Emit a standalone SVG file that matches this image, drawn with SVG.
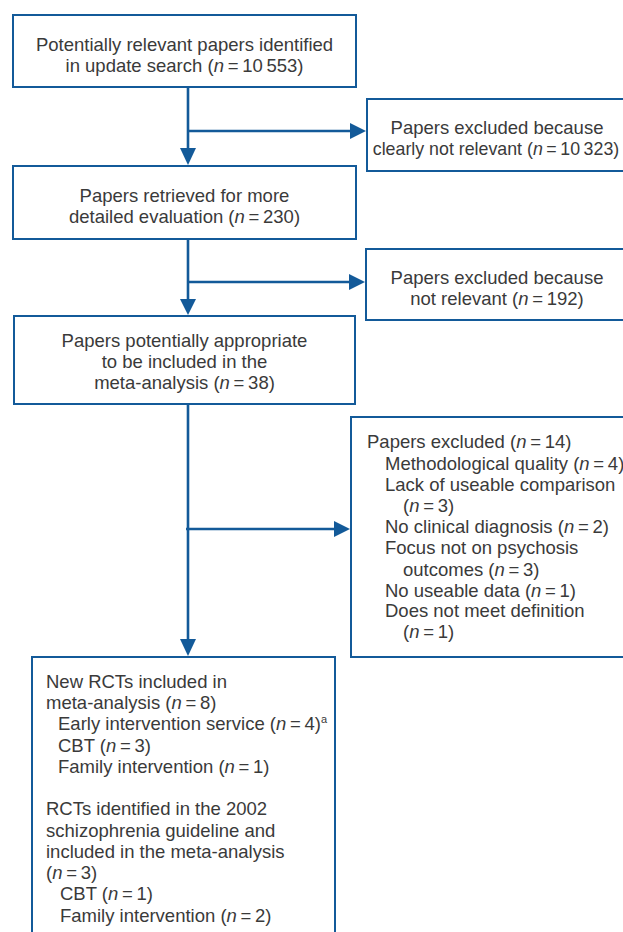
<svg xmlns="http://www.w3.org/2000/svg" width="623" height="932" viewBox="0 0 623 932">
<style>
.box{fill:#fff;stroke:#135a99;stroke-width:2}
.ln{fill:none;stroke:#135a99;stroke-width:2.6}
.hd{fill:#135a99}
text{font-family:"Liberation Sans",Arial,sans-serif;font-size:18.5px;fill:#3a3a3a}
.c{text-anchor:middle}
.i{font-style:italic}
.sup{font-size:11px}
.s{font-size:17.8px}
</style>
<rect width="623" height="932" fill="#fff"/>
<g id="connectors">
<path class="ln" d="M188 87V150M188 131H351"/>
<polygon class="hd" points="350,123 366,131 350,139"/>
<polygon class="hd" points="180,148 196,148 188,165"/>
<path class="ln" d="M188 239V300M188 282H350"/>
<polygon class="hd" points="349,274 365,282 349,290"/>
<polygon class="hd" points="180,299 196,299 188,315"/>
<path class="ln" d="M188 404V640M186 529H336"/>
<polygon class="hd" points="334,521 350,529 334,537"/>
<polygon class="hd" points="180,639 196,639 188,656"/>
</g>
<g id="n1">
<rect class="box" x="13" y="15" width="343" height="72"/>
<text class="c" x="184.5" y="51">Potentially relevant papers identified</text>
<text class="c" x="184.5" y="72">in update search (<tspan class="i">n</tspan>&#8201;=&#8201;10&#8201;553)</text>
</g>
<g id="n2">
<rect class="box" x="367" y="99" width="262" height="72"/>
<text class="c" x="497" y="134">Papers excluded because</text>
<text class="c s" x="496" y="155">clearly not relevant (<tspan class="i">n</tspan>&#8201;=&#8201;10&#8201;323)</text>
</g>
<g id="n3">
<rect class="box" x="13" y="166" width="343" height="73"/>
<text class="c" x="184.5" y="202">Papers retrieved for more</text>
<text class="c" x="184.5" y="223">detailed evaluation (<tspan class="i">n</tspan>&#8201;=&#8201;230)</text>
</g>
<g id="n4">
<rect class="box" x="366" y="249" width="263" height="71"/>
<text class="c" x="497" y="284">Papers excluded because</text>
<text class="c" x="497" y="305">not relevant (<tspan class="i">n</tspan>&#8201;=&#8201;192)</text>
</g>
<g id="n5">
<rect class="box" x="14" y="316" width="341" height="88"/>
<text class="c" x="184.5" y="347">Papers potentially appropriate</text>
<text class="c" x="184.5" y="368">to be included in the</text>
<text class="c" x="184.5" y="389">meta-analysis (<tspan class="i">n</tspan>&#8201;=&#8201;38)</text>
</g>
<g id="n6">
<rect class="box" x="351" y="417" width="278" height="240"/>
<text x="367" y="448">Papers excluded (<tspan class="i">n</tspan>&#8201;=&#8201;14)</text>
<text x="385" y="470">Methodological quality (<tspan class="i">n</tspan>&#8201;=&#8201;4)</text>
<text x="385" y="491">Lack of useable comparison</text>
<text x="403" y="512">(<tspan class="i">n</tspan>&#8201;=&#8201;3)</text>
<text x="385" y="533">No clinical diagnosis (<tspan class="i">n</tspan>&#8201;=&#8201;2)</text>
<text x="385" y="554">Focus not on psychosis</text>
<text x="403" y="576">outcomes (<tspan class="i">n</tspan>&#8201;=&#8201;3)</text>
<text x="385" y="597">No useable data (<tspan class="i">n</tspan>&#8201;=&#8201;1)</text>
<text x="385" y="617">Does not meet definition</text>
<text x="403" y="638">(<tspan class="i">n</tspan>&#8201;=&#8201;1)</text>
</g>
<g id="n7">
<rect class="box" x="32" y="657" width="303" height="290"/>
<text x="46" y="688">New RCTs included in</text>
<text x="46" y="709">meta-analysis (<tspan class="i">n</tspan>&#8201;=&#8201;8)</text>
<text x="58" y="730">Early intervention service (<tspan class="i">n</tspan>&#8201;=&#8201;4)<tspan class="sup" dy="-7">a</tspan></text>
<text x="58" y="752">CBT (<tspan class="i">n</tspan>&#8201;=&#8201;3)</text>
<text x="58" y="773">Family intervention (<tspan class="i">n</tspan>&#8201;=&#8201;1)</text>
<text x="46" y="815">RCTs identified in the 2002</text>
<text x="46" y="837">schizophrenia guideline and</text>
<text x="46" y="858">included in the meta-analysis</text>
<text x="46" y="879">(<tspan class="i">n</tspan>&#8201;=&#8201;3)</text>
<text x="60" y="900">CBT (<tspan class="i">n</tspan>&#8201;=&#8201;1)</text>
<text x="60" y="922">Family intervention (<tspan class="i">n</tspan>&#8201;=&#8201;2)</text>
</g>
</svg>
